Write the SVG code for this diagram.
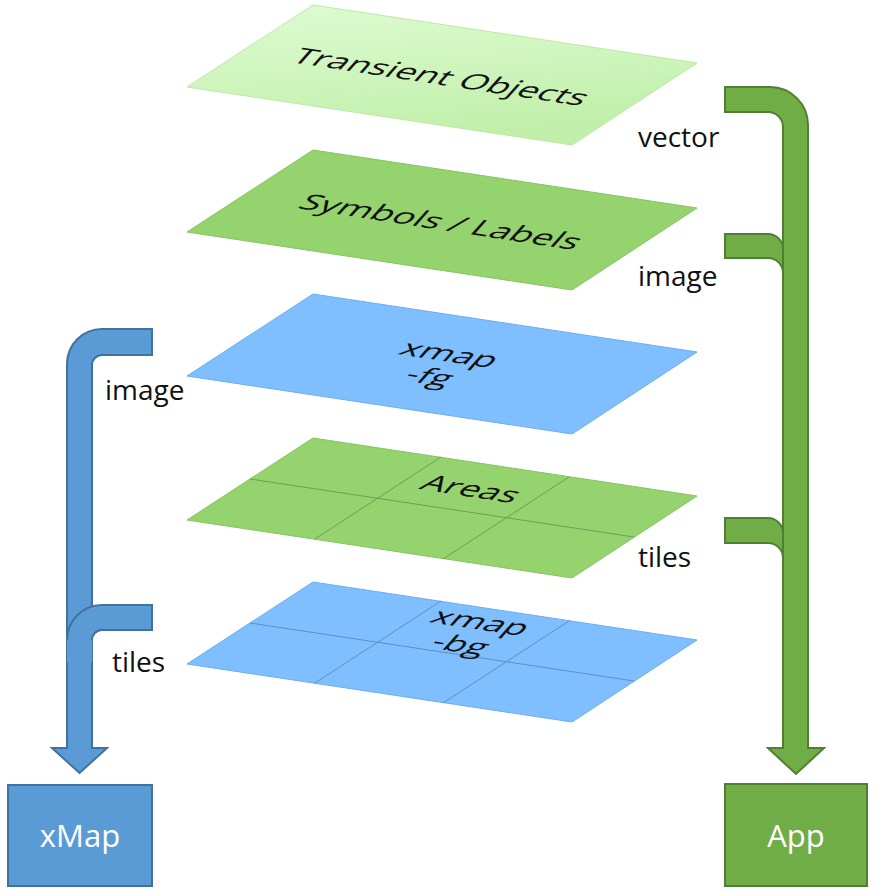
<svg xmlns="http://www.w3.org/2000/svg" width="876" height="896" viewBox="0 0 876 896">
<defs>
<linearGradient id="gTrans" x1="0" y1="0" x2="0.3" y2="1">
<stop offset="0" stop-color="#defcd3"/>
<stop offset="1" stop-color="#c1efaa"/>
</linearGradient>
<style>
.green{fill:#94d36e;stroke:#86c362;stroke-width:1}
.blue{fill:#7fbfff;stroke:#6aaeea;stroke-width:1}
.trans{fill:url(#gTrans);stroke:#bde8a6;stroke-width:1}
.gridG{stroke:#6e9f52;stroke-width:1;fill:none}
.gridB{stroke:#5e8fbf;stroke-width:1;fill:none}
.lt{font-family:"Open Sans","Liberation Sans",sans-serif;font-size:36px;fill:#111;text-anchor:middle;dominant-baseline:central}
.lbl{font-family:"Open Sans","Liberation Sans",sans-serif;font-size:28px;fill:#111}
.box{font-family:"Open Sans","Liberation Sans",sans-serif;font-size:31px;fill:#fff;text-anchor:middle;dominant-baseline:central}
.bfill{fill:#5b9bd5;stroke:#41719c;stroke-width:2;stroke-linejoin:miter}
.gfill{fill:#70ad47;stroke:#507e32;stroke-width:2;stroke-linejoin:miter}
.bnostroke{fill:#5b9bd5;stroke:none}
.bline{fill:none;stroke:#41719c;stroke-width:2}
</style>
</defs>

<g id="layer-transient">
<polygon class="trans" points="313,5 697,63 572,145 187,87"/>
<g transform="translate(442,76) matrix(0.99,0.15,-0.5,0.56,0,0)"><text class="lt" x="0" y="0">Transient Objects</text></g>
</g>

<g id="layer-symbols">
<polygon class="green" points="313,150 697,208 572,290 187,232"/>
<g transform="translate(442,221) matrix(0.99,0.15,-0.5,0.56,0,0)"><text class="lt" x="0" y="0">Symbols / Labels</text></g>
</g>

<g id="layer-xmap-fg">
<polygon class="blue" points="313,294 697,352 572,434 187,376"/>
<g transform="translate(441,364) matrix(0.99,0.15,-0.5,0.56,0,0)"><text class="lt" x="0" y="0"><tspan x="0" y="-20">xmap</tspan><tspan x="0" y="20">-fg</tspan></text></g>
</g>

<g id="layer-areas">
<polygon class="green" points="313,438 697,496 572,578 187,520"/>
<path class="gridG" d="M441,457 L315,539 M569,477 L443,559 M250,479 L634,537"/>
<g transform="translate(472,488) matrix(0.99,0.15,-0.5,0.56,0,0)"><text class="lt" x="0" y="0">Areas</text></g>
</g>

<g id="layer-xmap-bg">
<polygon class="blue" points="313,582 697,640 572,722 187,664"/>
<path class="gridB" d="M441,601 L315,683 M569,621 L443,703 M250,623 L634,681"/>
<g transform="translate(472,632) matrix(0.99,0.15,-0.5,0.56,0,0)"><text class="lt" x="0" y="0"><tspan x="0" y="-20">xmap</tspan><tspan x="0" y="20">-bg</tspan></text></g>
</g>

<g id="connectors">
<path class="bfill" d="M152,329 H102 A35,35 0 0 0 67,364 V748 H52 L79.5,773 L107,748 H92 V365 A10,10 0 0 1 102,355 H152 Z"/>
<path class="bnostroke" d="M152,605 H102 A35,35 0 0 0 67,640 V662 H92 V640 A10,10 0 0 1 102,630 H152 Z"/>
<path class="bline" d="M67,640 A35,35 0 0 1 102,605 H152 V630 H102 A10,10 0 0 0 92,640"/>
<path class="gfill" d="M725,234 H768 A15,15 0 0 1 783,249 H795 V273 H783 A15,15 0 0 0 768,258 H725 Z"/>
<path class="gfill" d="M725,518 H768 A15,15 0 0 1 783,533 H795 V558 H783 A15,15 0 0 0 768,543 H725 Z"/>
<path class="gfill" d="M725,87 H770 A38,38 0 0 1 808,125 V748 H824 L796,774 L768,748 H783 V127 A15,15 0 0 0 768,112 H725 Z"/>
</g>

<g id="labels">
<text class="lbl" x="638" y="147">vector</text>
<text class="lbl" x="638" y="286">image</text>
<text class="lbl" x="638" y="567">tiles</text>
<text class="lbl" x="105" y="400">image</text>
<text class="lbl" x="112" y="672">tiles</text>
</g>

<g id="node-xmap">
<rect class="bfill" x="8" y="785" width="144" height="101"/>
<text class="box" x="80" y="835">xMap</text>
</g>

<g id="node-app">
<rect class="gfill" x="725" y="784" width="142" height="102"/>
<text class="box" x="796" y="835">App</text>
</g>
</svg>
